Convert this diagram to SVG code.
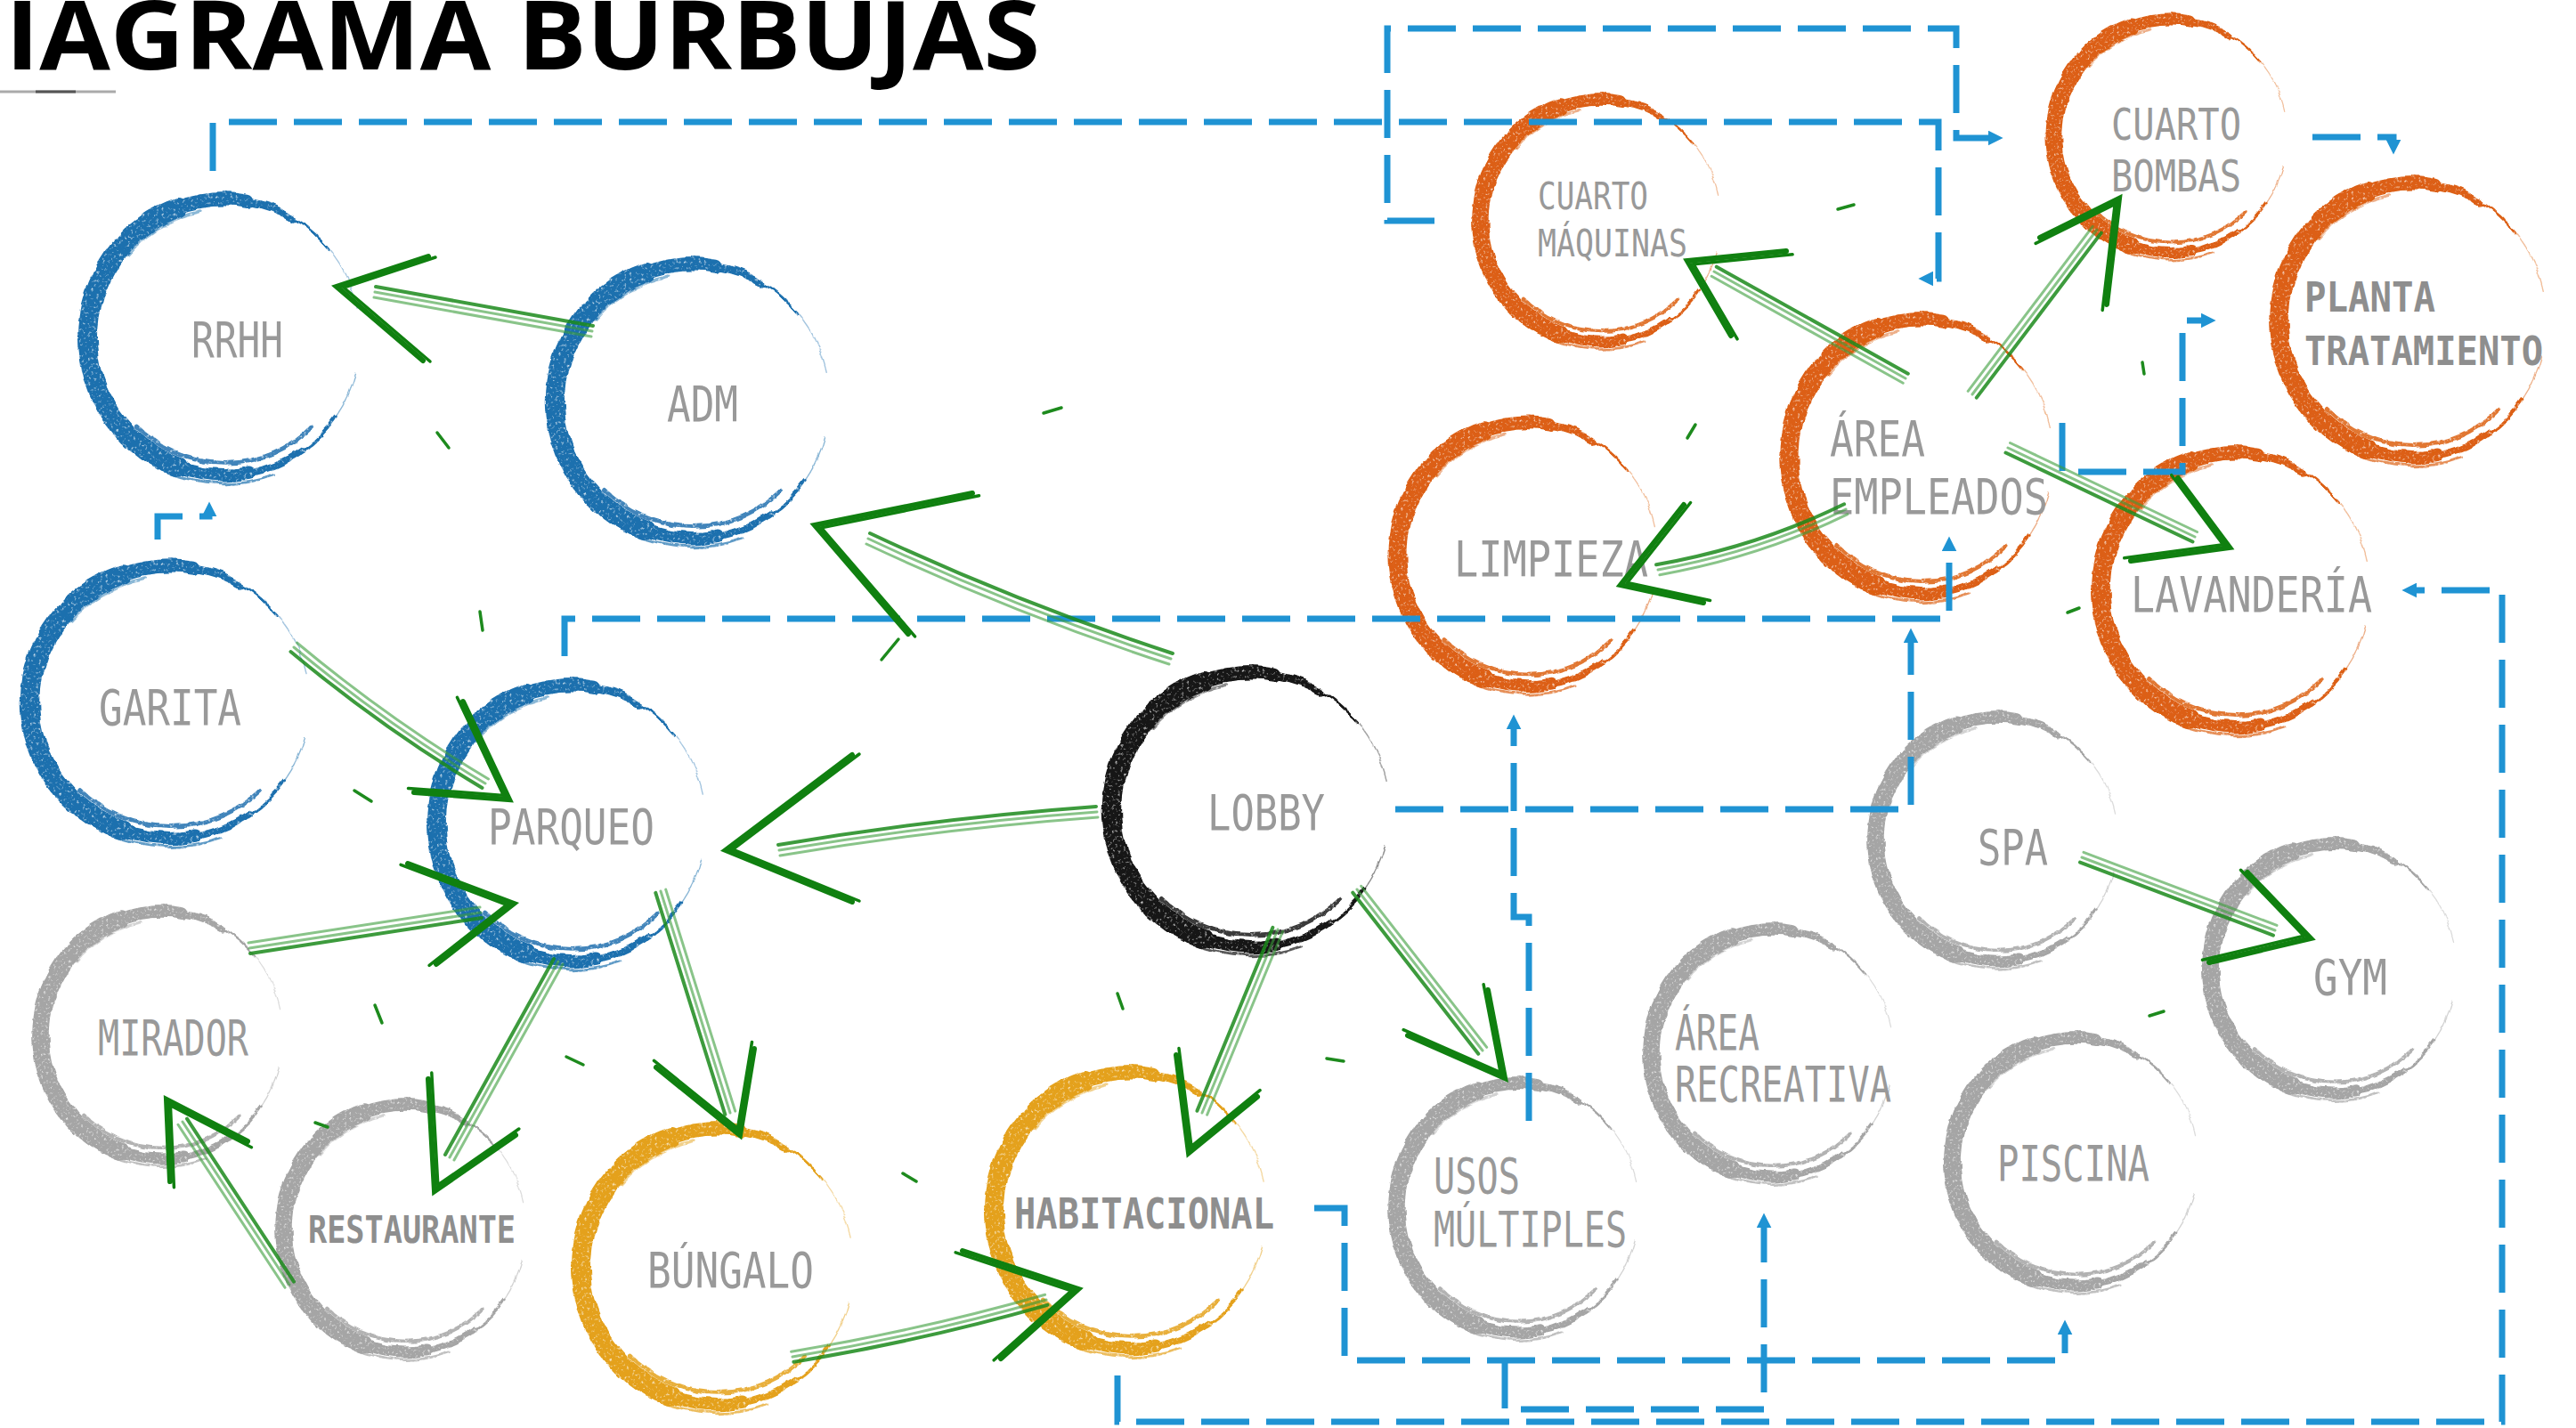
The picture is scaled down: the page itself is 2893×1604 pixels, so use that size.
<svg xmlns="http://www.w3.org/2000/svg" xmlns:xlink="http://www.w3.org/1999/xlink" width="2893" height="1604" viewBox="0 0 2893 1604">
<style>
.lbl{font-family:"DejaVu Sans Mono","Liberation Mono",monospace;font-size:55px;fill:#999}
.sm{font-size:42px}
.md{font-size:50px}
.bd{font-weight:bold;fill:#8e8e8e}
.title{font-family:"Open Sans","DejaVu Sans",sans-serif;font-weight:bold;font-size:108px;fill:#000}
.dash{fill:none;stroke:#1f93d3;stroke-width:7;stroke-dasharray:54 19}
.sh{fill:none;stroke:#3a9c3a;stroke-width:3;opacity:.6;stroke-linecap:round}
.sh2{fill:none;stroke:#1b8a1b;stroke-width:4;opacity:.85;stroke-linecap:round}
.hd{fill:none;stroke:#108010;stroke-width:6;stroke-linejoin:miter;stroke-linecap:round}
.hd2{fill:none;stroke:#108010;stroke-width:3.5;stroke-linejoin:miter;stroke-linecap:round}
.tk{fill:none;stroke:#1d8a1d;stroke-width:3.5;stroke-linecap:round}
</style>
<defs>
<filter id="brush" x="-15%" y="-15%" width="130%" height="130%">
<feTurbulence type="fractalNoise" baseFrequency="0.045" numOctaves="2" seed="2" result="warp"/>
<feDisplacementMap in="SourceGraphic" in2="warp" scale="7" xChannelSelector="R" yChannelSelector="G" result="d"/>
<feTurbulence type="fractalNoise" baseFrequency="0.3" numOctaves="2" seed="5" result="grain"/>
<feColorMatrix in="grain" type="matrix" values="0 0 0 0 0 0 0 0 0 0 0 0 0 0 0 0 0 0 -2.6 2.5" result="mask"/>
<feComposite in="d" in2="mask" operator="in"/>
</filter>
<g id="ring" fill="none" stroke="currentColor" stroke-linecap="round" filter="url(#brush)">
<path stroke-width="3" d="M122.6 -102.8 A160 160 0 0 0 80 -138.6"/>
<path stroke-width="9" d="M80 -138.6 A160 160 0 0 0 27.8 -157.6"/>
<path stroke-width="16" d="M27.8 -157.6 A160 160 0 0 0 -54.7 -150.4"/>
<path stroke-width="23" d="M-54.7 -150.4 A160 160 0 0 0 -54.7 150.4"/>
<path stroke-width="15" d="M-54.7 150.4 A160 160 0 0 0 27.8 157.6"/>
<path stroke-width="8" d="M27.8 157.6 A160 160 0 0 0 91.8 131.1"/>
<path stroke-width="3" d="M91.8 131.1 A160 160 0 0 0 131.1 91.8"/>
<path stroke-width="1.5" opacity=".5" d="M131.1 91.8 A160 160 0 0 0 154.5 41.4"/>
<path stroke-width="1.5" opacity=".4" d="M156 -35 A160 160 0 0 0 122.6 -102.8"/>
<path stroke-width="5" opacity=".85" d="M-103.2 103.2 A146 146 0 0 0 103.2 103.2"/>
<path stroke-width="3" opacity=".7" d="M-97.5 139.3 A170 170 0 0 0 58.1 159.7"/>
<path stroke-width="4" opacity=".5" d="M-28.4 -146.3 A149 149 0 0 0 -114 -95.8"/>
</g>
<marker id="ah" viewBox="0 0 10 10" refX="2" refY="5" markerWidth="17" markerHeight="17" markerUnits="userSpaceOnUse" orient="auto">
<path d="M0 0 L10 5 L0 10 z" fill="#1f93d3"/>
</marker>
</defs>
<rect width="2893" height="1604" fill="#fff"/>

<g id="title">
<text class="title" x="6" y="78" textLength="1162" lengthAdjust="spacingAndGlyphs">IAGRAMA BURBUJAS</text>
<line x1="0" y1="103" x2="130" y2="103" stroke="#aaa" stroke-width="3"/>
<line x1="40" y1="103" x2="85" y2="103" stroke="#555" stroke-width="3"/>
</g>

<g id="node-rrhh"><use href="#ring" color="#1c6fae" transform="translate(252 379) scale(.956 .969)"/><text class="lbl" x="215" y="401" textLength="103" lengthAdjust="spacingAndGlyphs">RRHH</text></g>
<g id="node-adm"><use href="#ring" color="#1c6fae" transform="translate(778 451) scale(.963 .963)"/><text class="lbl" x="749" y="473" textLength="80" lengthAdjust="spacingAndGlyphs">ADM</text></g>
<g id="node-garita"><use href="#ring" color="#1c6fae" transform="translate(191 789) scale(.981 .956)"/><text class="lbl" x="111" y="814" textLength="160" lengthAdjust="spacingAndGlyphs">GARITA</text></g>
<g id="node-parqueo"><use href="#ring" color="#1c6fae" transform="translate(642 925) scale(.944 .969)"/><text class="lbl" x="548" y="948" textLength="187" lengthAdjust="spacingAndGlyphs">PARQUEO</text></g>
<g id="node-mirador"><use href="#ring" color="#a5a5a5" transform="translate(182 1163) scale(.85 .869)"/><text class="lbl" x="110" y="1185" textLength="169" lengthAdjust="spacingAndGlyphs">MIRADOR</text></g>
<g id="node-restaurante"><use href="#ring" color="#a5a5a5" transform="translate(455 1380) scale(.85 .869)"/><text class="lbl bd" style="font-size:43px" x="346" y="1396" textLength="233" lengthAdjust="spacingAndGlyphs">RESTAURANTE</text></g>
<g id="node-bungalo"><use href="#ring" color="#e4a11b" transform="translate(806 1423) scale(.956 .969)"/><text class="lbl" x="727" y="1446" textLength="187" lengthAdjust="spacingAndGlyphs">BÚNGALO</text></g>
<g id="node-habitacional"><use href="#ring" color="#e4a11b" transform="translate(1270 1360) scale(.956 .969)"/><text class="lbl bd" style="font-size:48px" x="1139" y="1380" textLength="292" lengthAdjust="spacingAndGlyphs">HABITACIONAL</text></g>
<g id="node-lobby"><use href="#ring" color="#141414" transform="translate(1405 910) scale(.975 .963)"/><text class="lbl" x="1356" y="932" textLength="132" lengthAdjust="spacingAndGlyphs">LOBBY</text></g>
<g id="node-usos"><use href="#ring" color="#a5a5a5" transform="translate(1705 1357) scale(.85 .875)"/><text class="lbl" x="1610" y="1340" textLength="97" lengthAdjust="spacingAndGlyphs">USOS</text><text class="lbl" x="1610" y="1400" textLength="217" lengthAdjust="spacingAndGlyphs">MÚLTIPLES</text></g>
<g id="node-recreativa"><use href="#ring" color="#a5a5a5" transform="translate(1991 1183) scale(.85 .869)"/><text class="lbl" x="1881" y="1179" textLength="95" lengthAdjust="spacingAndGlyphs">ÁREA</text><text class="lbl" x="1881" y="1237" textLength="243" lengthAdjust="spacingAndGlyphs">RECREATIVA</text></g>
<g id="node-piscina"><use href="#ring" color="#a5a5a5" transform="translate(2331 1305) scale(.8625 .869)"/><text class="lbl" x="2243" y="1326" textLength="171" lengthAdjust="spacingAndGlyphs">PISCINA</text></g>
<g id="node-spa"><use href="#ring" color="#a5a5a5" transform="translate(2243 943) scale(.85 .856)"/><text class="lbl" x="2221" y="971" textLength="79" lengthAdjust="spacingAndGlyphs">SPA</text></g>
<g id="node-gym"><use href="#ring" color="#a5a5a5" transform="translate(2621 1088) scale(.8625 .875)"/><text class="lbl" x="2598" y="1117" textLength="83" lengthAdjust="spacingAndGlyphs">GYM</text></g>
<g id="node-limpieza"><use href="#ring" color="#dc5f12" transform="translate(1716 623) scale(.9125 .925)"/><text class="lbl" x="1633" y="647" textLength="218" lengthAdjust="spacingAndGlyphs">LIMPIEZA</text></g>
<g id="node-empleados"><use href="#ring" color="#dc5f12" transform="translate(2158 513) scale(.925 .963)"/><text class="lbl" x="2055" y="512" textLength="107" lengthAdjust="spacingAndGlyphs">ÁREA</text><text class="lbl" x="2055" y="577" textLength="245" lengthAdjust="spacingAndGlyphs">EMPLEADOS</text></g>
<g id="node-lavanderia"><use href="#ring" color="#dc5f12" transform="translate(2511 663) scale(.944 .963)"/><text class="lbl" x="2393" y="687" textLength="271" lengthAdjust="spacingAndGlyphs">LAVANDERÍA</text></g>
<g id="node-maquinas"><use href="#ring" color="#dc5f12" transform="translate(1798 248) scale(.844 .85)"/><text class="lbl sm" x="1727" y="235" textLength="124" lengthAdjust="spacingAndGlyphs">CUARTO</text><text class="lbl sm" x="1727" y="288" textLength="168" lengthAdjust="spacingAndGlyphs">MÁQUINAS</text></g>
<g id="node-bombas"><use href="#ring" color="#dc5f12" transform="translate(2438 153) scale(.819 .819)"/><text class="lbl md" x="2371" y="157" textLength="146" lengthAdjust="spacingAndGlyphs">CUARTO</text><text class="lbl md" x="2371" y="215" textLength="146" lengthAdjust="spacingAndGlyphs">BOMBAS</text></g>
<g id="node-planta"><use href="#ring" color="#dc5f12" transform="translate(2710 360) scale(.9375 .963)"/><text class="lbl bd" style="font-size:47px" x="2588" y="350" textLength="147" lengthAdjust="spacingAndGlyphs">PLANTA</text><text class="lbl bd" style="font-size:45px" x="2588" y="410" textLength="268" lengthAdjust="spacingAndGlyphs">TRATAMIENTO</text></g>

<g id="connectors">
<g id="dashed">
<path class="dash" marker-end="url(#ah)" d="M239 192 V137 H2177 V313 H2168"/>
<path class="dash" marker-end="url(#ah)" d="M1611 248 H1558 V32 H2197 V155 H2236"/>
<path class="dash" marker-end="url(#ah)" d="M2597 154 H2688 V160"/>
<path class="dash" marker-end="url(#ah)" d="M177 606 V580 H235 V577"/>
<path class="dash" marker-end="url(#ah)" d="M634 737 V695 H2189 V616"/>
<path class="dash" marker-end="url(#ah)" d="M1567 909 H2146 V719"/>
<path class="dash" marker-end="url(#ah)" d="M1717 1259 V1030 H1700 V816"/>
<path class="dash" marker-end="url(#ah)" d="M1476 1357 H1510 V1528 H2319 V1496"/>
<path class="dash" marker-end="url(#ah)" d="M1690 1528 V1583 H1981 V1376"/>
<path class="dash" marker-end="url(#ah)" d="M1255 1545 V1597 H2810 V663 H2711"/>
<path class="dash" marker-end="url(#ah)" d="M2316 475 V530 H2451 V360 H2475"/>
</g>
<g id="green">
<g id="g-adm-rrhh"><path class="sh" d="M665 372 L421 328"/><path class="sh2" transform="translate(1,-6)" d="M665 372 L421 328"/><path class="sh" transform="translate(-1,6)" d="M665 372 L421 328"/><path class="hd" d="M481 288 L378 322 L475 405"/><path class="hd2" transform="translate(8,1)" d="M481 288 L378 322 L475 405"/></g>
<g id="g-lobby-adm"><path class="sh" d="M1315 740 Q1141 683 975 605"/><path class="sh2" transform="translate(2,-6)" d="M1315 740 Q1141 683 975 605"/><path class="sh" transform="translate(-2,6)" d="M1315 740 Q1141 683 975 605"/><path class="hd" d="M1092 554 L915 590 L1020 712"/><path class="hd2" transform="translate(7.5,2.8)" d="M1092 554 L915 590 L1020 712"/></g>
<g id="g-lobby-parqueo"><path class="sh" d="M1232 912 Q1053 925 875 955"/><path class="sh2" transform="translate(-1,-6)" d="M1232 912 Q1053 925 875 955"/><path class="sh" transform="translate(1,6)" d="M1232 912 Q1053 925 875 955"/><path class="hd" d="M957 848 L815 955 L957 1013"/><path class="hd2" transform="translate(8,-1)" d="M957 848 L815 955 L957 1013"/></g>
<g id="g-garita-parqueo"><path class="sh" d="M330 727 Q433 813 545 880"/><path class="sh2" transform="translate(-3.5,5)" d="M330 727 Q433 813 545 880"/><path class="sh" transform="translate(3.5,-5)" d="M330 727 Q433 813 545 880"/><path class="hd" d="M520 788 L572 898 L465 890"/><path class="hd2" transform="translate(-6.5,-4.6)" d="M520 788 L572 898 L465 890"/></g>
<g id="g-mirador-parqueo"><path class="sh" d="M280 1065 L540 1025"/><path class="sh2" transform="translate(1,6)" d="M280 1065 L540 1025"/><path class="sh" transform="translate(-1,-6)" d="M280 1065 L540 1025"/><path class="hd" d="M458 970 L577 1015 L490 1083"/><path class="hd2" transform="translate(-7.9,1.3)" d="M458 970 L577 1015 L490 1083"/></g>
<g id="g-parqueo-restaurante"><path class="sh" d="M627 1080 L505 1300"/><path class="sh2" transform="translate(-5,-3)" d="M627 1080 L505 1300"/><path class="sh" transform="translate(5,3)" d="M627 1080 L505 1300"/><path class="hd" d="M481 1212 L488 1338 L579 1275"/><path class="hd2" transform="translate(3.8,-7)" d="M481 1212 L488 1338 L579 1275"/></g>
<g id="g-parqueo-bungalo"><path class="sh" d="M742 1001 L820 1250"/><path class="sh2" transform="translate(-5.7,1.9)" d="M742 1001 L820 1250"/><path class="sh" transform="translate(5.7,-1.9)" d="M742 1001 L820 1250"/><path class="hd" d="M847 1178 L831 1275 L737 1199"/><path class="hd2" transform="translate(-2.5,-7.6)" d="M847 1178 L831 1275 L737 1199"/></g>
<g id="g-restaurante-mirador"><path class="sh" d="M325 1443 L205 1260"/><path class="sh2" transform="translate(5,-3.3)" d="M325 1443 L205 1260"/><path class="sh" transform="translate(-5,3.3)" d="M325 1443 L205 1260"/><path class="hd" d="M191 1327 L187 1235 L278 1282"/><path class="hd2" transform="translate(4.4,6.7)" d="M191 1327 L187 1235 L278 1282"/></g>
<g id="g-bungalo-habitacional"><path class="sh" d="M890 1524 Q1035 1500 1175 1460"/><path class="sh2" transform="translate(1.4,5.8)" d="M890 1524 Q1035 1500 1175 1460"/><path class="sh" transform="translate(-1.4,-5.8)" d="M890 1524 Q1035 1500 1175 1460"/><path class="hd" d="M1081 1405 L1211 1448 L1124 1526"/><path class="hd2" transform="translate(-7.8,1.8)" d="M1081 1405 L1211 1448 L1124 1526"/></g>
<g id="g-lobby-habitacional"><path class="sh" d="M1435 1044 L1350 1250"/><path class="sh2" transform="translate(-5.6,-2.2)" d="M1435 1044 L1350 1250"/><path class="sh" transform="translate(5.6,2.2)" d="M1435 1044 L1350 1250"/><path class="hd" d="M1321 1185 L1335 1295 L1412 1232"/><path class="hd2" transform="translate(3,-7.4)" d="M1321 1185 L1335 1295 L1412 1232"/></g>
<g id="g-lobby-usos"><path class="sh" d="M1524 999 L1665 1180"/><path class="sh2" transform="translate(-4.7,3.7)" d="M1524 999 L1665 1180"/><path class="sh" transform="translate(4.7,-3.7)" d="M1524 999 L1665 1180"/><path class="hd" d="M1671 1112 L1690 1211 L1581 1163"/><path class="hd2" transform="translate(-4.9,-6.3)" d="M1671 1112 L1690 1211 L1581 1163"/></g>
<g id="g-spa-gym"><path class="sh" d="M2338 963 L2555 1045"/><path class="sh2" transform="translate(-2,5.6)" d="M2338 963 L2555 1045"/><path class="sh" transform="translate(2,-5.6)" d="M2338 963 L2555 1045"/><path class="hd" d="M2524 980 L2595 1054 L2481 1081"/><path class="hd2" transform="translate(-7.5,-2.7)" d="M2524 980 L2595 1054 L2481 1081"/></g>
<g id="g-empleados-maquinas"><path class="sh" d="M2140 425 L1925 305"/><path class="sh2" transform="translate(2.8,-5.3)" d="M2140 425 L1925 305"/><path class="sh" transform="translate(-2.8,5.3)" d="M2140 425 L1925 305"/><path class="hd" d="M2006 282 L1895 293 L1944 377"/><path class="hd2" transform="translate(7.1,3.8)" d="M2006 282 L1895 293 L1944 377"/></g>
<g id="g-empleados-bombas"><path class="sh" d="M2215 443 L2355 258"/><path class="sh2" transform="translate(4.8,3.6)" d="M2215 443 L2355 258"/><path class="sh" transform="translate(-4.8,-3.6)" d="M2215 443 L2355 258"/><path class="hd" d="M2291 267 L2380 223 L2366 342"/><path class="hd2" transform="translate(-4.8,6.4)" d="M2291 267 L2380 223 L2366 342"/></g>
<g id="g-empleados-limpieza"><path class="sh" d="M2073 572 Q1975 620 1862 640"/><path class="sh2" transform="translate(-1.9,-5.7)" d="M2073 572 Q1975 620 1862 640"/><path class="sh" transform="translate(1.9,5.7)" d="M2073 572 Q1975 620 1862 640"/><path class="hd" d="M1891 567 L1820 657 L1913 677"/><path class="hd2" transform="translate(7.6,-2.5)" d="M1891 567 L1820 657 L1913 677"/></g>
<g id="g-empleados-lavanderia"><path class="sh" d="M2255 503 L2465 603"/><path class="sh2" transform="translate(-2.5,5.5)" d="M2255 503 L2465 603"/><path class="sh" transform="translate(2.5,-5.5)" d="M2255 503 L2465 603"/><path class="hd" d="M2446 537 L2504 615 L2393 630"/><path class="hd2" transform="translate(-7.3,-3.3)" d="M2446 537 L2504 615 L2393 630"/></g>
</g>
<g id="ticks">
<path class="tk" d="M491 486 L504 503"/>
<path class="tk" d="M1172 464 L1192 458"/>
<path class="tk" d="M539 687 L542 708"/>
<path class="tk" d="M1009 718 L990 741"/>
<path class="tk" d="M398 888 L417 900"/>
<path class="tk" d="M421 1129 L429 1149"/>
<path class="tk" d="M636 1187 L655 1196"/>
<path class="tk" d="M354 1261 L368 1266"/>
<path class="tk" d="M1014 1318 L1029 1327"/>
<path class="tk" d="M1255 1116 L1261 1133"/>
<path class="tk" d="M1490 1189 L1509 1192"/>
<path class="tk" d="M1904 477 L1895 492"/>
<path class="tk" d="M2064 235 L2082 230"/>
<path class="tk" d="M2406 407 L2408 420"/>
<path class="tk" d="M2322 688 L2335 683"/>
<path class="tk" d="M2414 1141 L2430 1136"/>
</g>
</g>
</svg>
